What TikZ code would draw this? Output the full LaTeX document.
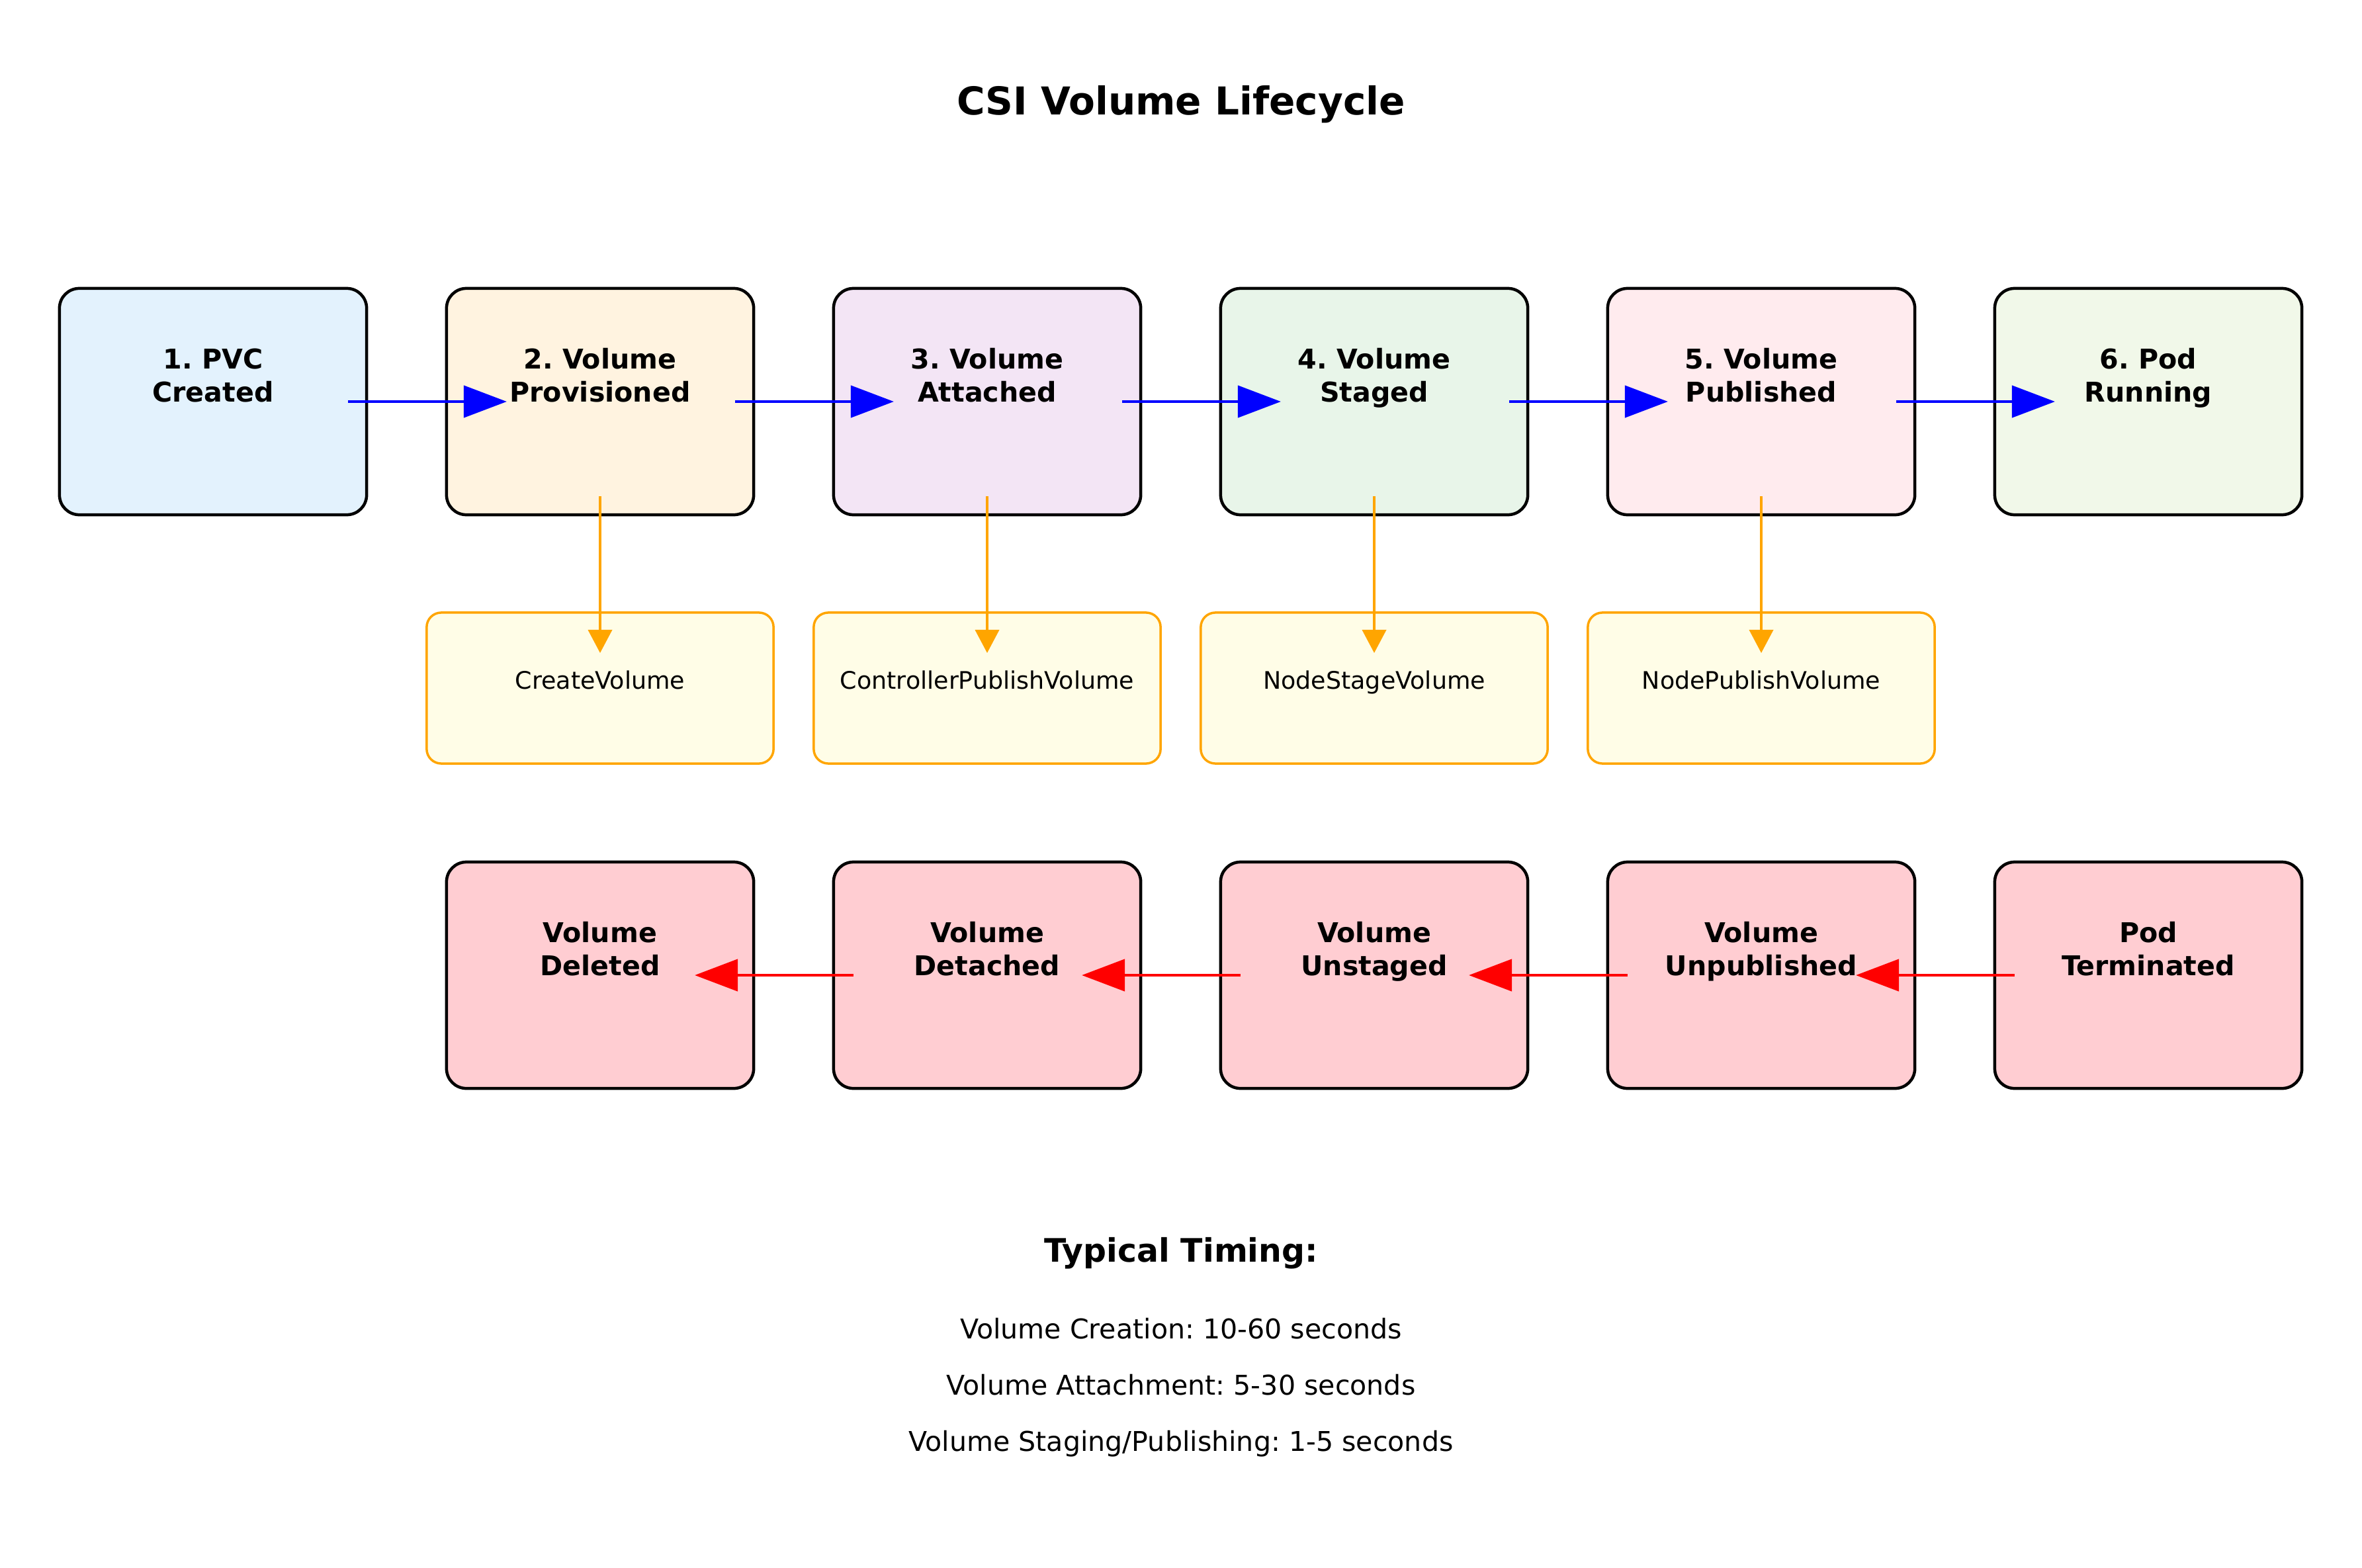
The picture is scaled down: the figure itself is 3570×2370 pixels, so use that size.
\documentclass[tikz,border=0pt]{standalone}
\usepackage{fontspec}
\setmainfont{DejaVu Sans}
\usetikzlibrary{arrows.meta}
\definecolor{sA}{HTML}{E3F2FD}
\definecolor{sB}{HTML}{FFF3E0}
\definecolor{sC}{HTML}{F3E5F5}
\definecolor{sD}{HTML}{E8F5E9}
\definecolor{sE}{HTML}{FFEBEE}
\definecolor{sF}{HTML}{F1F8E9}
\definecolor{rfill}{HTML}{FFCDD2}
\definecolor{yfill}{HTML}{FFFDE7}
\definecolor{orng}{HTML}{FFA500}
\frenchspacing
\begin{document}
\begin{tikzpicture}[x=0.01cm,y=-0.01cm,
  stage/.style={draw=black, line width=0.045cm, rounded corners=0.3cm, minimum width=4.64cm, minimum height=3.42cm, inner sep=0pt},
  api/.style={draw=orng, fill=yfill, line width=0.035cm, rounded corners=0.22cm, minimum width=5.24cm, minimum height=2.28cm, inner sep=0pt},
  lbl/.style={font=\fontsize{11.7pt}{13.94pt}\selectfont\bfseries, align=center, anchor=base, inner sep=0pt},
  apilbl/.style={font=\fontsize{10.36pt}{12.4pt}\selectfont, anchor=base, inner sep=0pt},
  fwd/.style={draw=blue, line width=0.045cm, -{Triangle[length=0.65cm,width=0.48cm]}},
  bwd/.style={draw=red, line width=0.045cm, -{Triangle[length=0.65cm,width=0.48cm]}},
  call/.style={draw=orng, line width=0.038cm, -{Triangle[length=0.35cm,width=0.36cm]}},
  txt/.style={font=\fontsize{11.7pt}{14pt}\selectfont, anchor=base, inner sep=0pt}
]
\useasboundingbox[fill=white] (0,0) rectangle (3570,2370);

% title
\node[font=\fontsize{16.5pt}{19.8pt}\selectfont\bfseries, anchor=base, inner sep=0pt] (title) at (1785,174) {CSI Volume Lifecycle};

% forward stages
\node[stage, fill=sA] (b1) at (322,607) {};
\node[stage, fill=sB] (b2) at (907,607) {};
\node[stage, fill=sC] (b3) at (1492,607) {};
\node[stage, fill=sD] (b4) at (2077,607) {};
\node[stage, fill=sE] (b5) at (2662,607) {};
\node[stage, fill=sF] (b6) at (3247,607) {};

% api calls
\node[api] (a2) at (907,1040) {};
\node[api] (a3) at (1492,1040) {};
\node[api] (a4) at (2077,1040) {};
\node[api] (a5) at (2662,1040) {};

% teardown stages
\node[stage, fill=rfill] (r1) at (907,1474) {};
\node[stage, fill=rfill] (r2) at (1492,1474) {};
\node[stage, fill=rfill] (r3) at (2077,1474) {};
\node[stage, fill=rfill] (r4) at (2662,1474) {};
\node[stage, fill=rfill] (r5) at (3247,1474) {};

% forward arrows
\draw[fwd] ([xshift=2.04cm]b1.center) -- ([xshift=-1.41cm]b2.center);
\draw[fwd] ([xshift=2.04cm]b2.center) -- ([xshift=-1.41cm]b3.center);
\draw[fwd] ([xshift=2.04cm]b3.center) -- ([xshift=-1.41cm]b4.center);
\draw[fwd] ([xshift=2.04cm]b4.center) -- ([xshift=-1.41cm]b5.center);
\draw[fwd] ([xshift=2.04cm]b5.center) -- ([xshift=-1.41cm]b6.center);

% call arrows
\draw[call] ([yshift=-1.43cm]b2.center) -- ([yshift=0.53cm]a2.center);
\draw[call] ([yshift=-1.43cm]b3.center) -- ([yshift=0.53cm]a3.center);
\draw[call] ([yshift=-1.43cm]b4.center) -- ([yshift=0.53cm]a4.center);
\draw[call] ([yshift=-1.43cm]b5.center) -- ([yshift=0.53cm]a5.center);

% teardown arrows
\draw[bwd] ([xshift=-2.02cm]r5.center) -- ([xshift=1.43cm]r4.center);
\draw[bwd] ([xshift=-2.02cm]r4.center) -- ([xshift=1.43cm]r3.center);
\draw[bwd] ([xshift=-2.02cm]r3.center) -- ([xshift=1.43cm]r2.center);
\draw[bwd] ([xshift=-2.02cm]r2.center) -- ([xshift=1.43cm]r1.center);

% labels (anchor base = baseline of the last line)
\node[lbl] (t1) at (b1.center) {1. PVC\\Created};
\node[lbl] (t2) at (b2.center) {2. Volume\\Provisioned};
\node[lbl] (t3) at (b3.center) {3. Volume\\Attached};
\node[lbl] (t4) at (b4.center) {4. Volume\\Staged};
\node[lbl] (t5) at (b5.center) {5. Volume\\Published};
\node[lbl] (t6) at (b6.center) {6. Pod\\Running};

\node[apilbl] (l2) at ([yshift=-0.01cm]a2.center) {CreateVolume};
\node[apilbl] (l3) at ([yshift=-0.01cm]a3.center) {ControllerPublishVolume};
\node[apilbl] (l4) at ([yshift=-0.01cm]a4.center) {NodeStageVolume};
\node[apilbl] (l5) at ([yshift=-0.01cm]a5.center) {NodePublishVolume};

\node[lbl] (u1) at (r1.center) {Volume\\Deleted};
\node[lbl] (u2) at (r2.center) {Volume\\Detached};
\node[lbl] (u3) at (r3.center) {Volume\\Unstaged};
\node[lbl] (u4) at (r4.center) {Volume\\Unpublished};
\node[lbl] (u5) at (r5.center) {Pod\\Terminated};

% timing
\node[font=\fontsize{13.9pt}{16.7pt}\selectfont\bfseries, anchor=base, inner sep=0pt] (th) at (1785,1907) {Typical Timing:};
\node[txt] (tl1) at (1785,2023) {Volume Creation: 10-60 seconds};
\node[txt] (tl2) at (1785,2108) {Volume Attachment: 5-30 seconds};
\node[txt] (tl3) at (1785,2193) {Volume Staging/Publishing: 1-5 seconds};
\end{tikzpicture}
\end{document}
